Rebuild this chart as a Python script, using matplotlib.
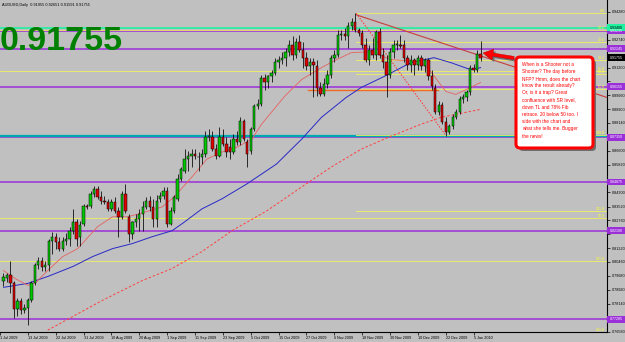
import matplotlib
matplotlib.use("Agg")
import matplotlib.pyplot as plt
from matplotlib.patches import FancyBboxPatch, Rectangle, FancyArrow
from matplotlib.transforms import Affine2D, blended_transform_factory

plt.rcParams['font.family'] = ['Liberation Sans', 'DejaVu Sans']

header = "AUDUSD,Daily  0.91955 0.92651 0.91591 0.91755"
last_price = 0.91755
note = ("When is a Shooter not a\nShooter? The day before\nNFP? Hmm, does the chart\n"
        "know the result already?\nOr, is it a trap? Great\nconfluence with SR level,\n"
        "down TL and 78% Fib\nretrace. 20 below 50 too. I\nside with the chart and\n"
        "what she tells me. Bugger\nthe news!")

opens = [0.7938, 0.7954, 0.7971, 0.7927, 0.7784, 0.7828, 0.7778, 0.7789, 0.7833, 0.7927,
         0.8026, 0.8053, 0.8020, 0.8026, 0.8163, 0.8185, 0.8158, 0.8119, 0.8163, 0.8174,
         0.8218, 0.8268, 0.8185, 0.8257, 0.8356, 0.8356, 0.8422, 0.8449, 0.8405, 0.8383,
         0.8378, 0.8339, 0.8378, 0.8328, 0.8295, 0.8422, 0.8295, 0.8202, 0.8268, 0.8284,
         0.8312, 0.8350, 0.8383, 0.8350, 0.8284, 0.8394, 0.8411, 0.8438, 0.8257, 0.8328,
         0.8394, 0.8504, 0.8548, 0.8614, 0.8631, 0.8642, 0.8625, 0.8625, 0.8642, 0.8735,
         0.8735, 0.8669, 0.8631, 0.8735, 0.8697, 0.8680, 0.8653, 0.8724, 0.8708, 0.8823,
         0.8708, 0.8658, 0.8779, 0.8906, 0.8917, 0.9065, 0.9038, 0.9071, 0.9093, 0.9153,
         0.9164, 0.9175, 0.9208, 0.9247, 0.9192, 0.9263, 0.9219, 0.9175, 0.9131, 0.9153,
         0.9131, 0.9010, 0.8972, 0.9032, 0.9082, 0.9175, 0.9192, 0.9302, 0.9307, 0.9296,
         0.9351, 0.9373, 0.9329, 0.9313, 0.9247, 0.9164, 0.9219, 0.9192, 0.9318, 0.9192,
         0.9153, 0.9082, 0.9208, 0.9247, 0.9247, 0.9247, 0.9175, 0.9137, 0.9164, 0.9137,
         0.9175, 0.9131, 0.9164, 0.9071, 0.9010, 0.8873, 0.8911, 0.8818, 0.8763, 0.8796,
         0.8845, 0.8873, 0.8944, 0.8955, 0.8983, 0.9120, 0.9109, 0.91955]
highs = [0.7982, 0.7987, 0.8048, 0.7938, 0.7844, 0.7844, 0.7811, 0.7844, 0.7938, 0.8042,
         0.8075, 0.8075, 0.8053, 0.8174, 0.8213, 0.8207, 0.8185, 0.8185, 0.8207, 0.8240,
         0.8339, 0.8284, 0.8273, 0.8367, 0.8367, 0.8438, 0.8466, 0.8466, 0.8438, 0.8411,
         0.8394, 0.8394, 0.8405, 0.8350, 0.8438, 0.8477, 0.8312, 0.8273, 0.8312, 0.8339,
         0.8383, 0.8405, 0.8411, 0.8394, 0.8416, 0.8433, 0.8460, 0.8460, 0.8350, 0.8416,
         0.8532, 0.8570, 0.8669, 0.8658, 0.8669, 0.8669, 0.8653, 0.8669, 0.8768, 0.8779,
         0.8768, 0.8697, 0.8790, 0.8779, 0.8735, 0.8724, 0.8752, 0.8768, 0.8845, 0.8834,
         0.8724, 0.8790, 0.8917, 0.8944, 0.9082, 0.9087, 0.9082, 0.9109, 0.9175, 0.9186,
         0.9208, 0.9230, 0.9274, 0.9296, 0.9285, 0.9302, 0.9263, 0.9208, 0.9175, 0.9175,
         0.9164, 0.9038, 0.9065, 0.9109, 0.9192, 0.9219, 0.9329, 0.9329, 0.9340, 0.9373,
         0.9395, 0.9423, 0.9340, 0.9329, 0.9285, 0.9247, 0.9285, 0.9329, 0.9340, 0.9230,
         0.9192, 0.9230, 0.9274, 0.9274, 0.9302, 0.9274, 0.9192, 0.9192, 0.9175, 0.9192,
         0.9192, 0.9175, 0.9175, 0.9109, 0.9027, 0.8933, 0.8928, 0.8845, 0.8807, 0.8862,
         0.8889, 0.8961, 0.8972, 0.8999, 0.9137, 0.9142, 0.9219, 0.92651]
lows = [0.7910, 0.7932, 0.7872, 0.7734, 0.7745, 0.7756, 0.7762, 0.7696, 0.7822, 0.7916,
        0.8009, 0.7998, 0.7998, 0.7998, 0.8092, 0.8119, 0.8108, 0.8108, 0.8141, 0.8136,
        0.8202, 0.8136, 0.8136, 0.8246, 0.8339, 0.8345, 0.8405, 0.8394, 0.8367, 0.8367,
        0.8328, 0.8328, 0.8317, 0.8185, 0.8284, 0.8317, 0.8158, 0.8174, 0.8240, 0.8218,
        0.8218, 0.8339, 0.8328, 0.8240, 0.8240, 0.8378, 0.8394, 0.8240, 0.8251, 0.8317,
        0.8383, 0.8493, 0.8537, 0.8548, 0.8570, 0.8614, 0.8548, 0.8587, 0.8625, 0.8713,
        0.8658, 0.8614, 0.8625, 0.8686, 0.8625, 0.8614, 0.8642, 0.8691, 0.8691, 0.8713,
        0.8570, 0.8642, 0.8768, 0.8889, 0.8906, 0.8999, 0.9010, 0.9043, 0.9082, 0.9120,
        0.9142, 0.9131, 0.9186, 0.9164, 0.9175, 0.9208, 0.9120, 0.9109, 0.9082, 0.8955,
        0.8961, 0.8961, 0.8961, 0.9010, 0.9065, 0.9153, 0.9181, 0.9274, 0.9274, 0.9230,
        0.9329, 0.9318, 0.9296, 0.9230, 0.9153, 0.9137, 0.9175, 0.9164, 0.9175, 0.9120,
        0.8955, 0.9065, 0.9175, 0.9219, 0.9230, 0.9153, 0.9109, 0.9098, 0.9082, 0.9109,
        0.9109, 0.9098, 0.9054, 0.8999, 0.8862, 0.8856, 0.8807, 0.8741, 0.8752, 0.8779,
        0.8834, 0.8862, 0.8922, 0.8933, 0.8966, 0.9098, 0.9098, 0.91591]
closes = [0.7960, 0.7971, 0.7927, 0.7784, 0.7828, 0.7778, 0.7789, 0.7833, 0.7927, 0.8026,
          0.8053, 0.8020, 0.8031, 0.8163, 0.8185, 0.8158, 0.8119, 0.8163, 0.8174, 0.8218,
          0.8268, 0.8174, 0.8251, 0.8356, 0.8350, 0.8422, 0.8449, 0.8405, 0.8383, 0.8378,
          0.8339, 0.8378, 0.8328, 0.8295, 0.8422, 0.8328, 0.8202, 0.8268, 0.8284, 0.8312,
          0.8350, 0.8383, 0.8350, 0.8284, 0.8383, 0.8411, 0.8438, 0.8257, 0.8328, 0.8405,
          0.8504, 0.8559, 0.8614, 0.8631, 0.8642, 0.8631, 0.8628, 0.8642, 0.8735, 0.8741,
          0.8669, 0.8631, 0.8735, 0.8697, 0.8653, 0.8653, 0.8724, 0.8708, 0.8823, 0.8724,
          0.8642, 0.8779, 0.8906, 0.8917, 0.9065, 0.9038, 0.9071, 0.9093, 0.9153, 0.9164,
          0.9175, 0.9208, 0.9247, 0.9192, 0.9263, 0.9219, 0.9175, 0.9131, 0.9153, 0.9137,
          0.9010, 0.8972, 0.9032, 0.9082, 0.9175, 0.9192, 0.9302, 0.9307, 0.9296, 0.9351,
          0.9373, 0.9329, 0.9313, 0.9247, 0.9164, 0.9219, 0.9192, 0.9318, 0.9192, 0.9153,
          0.9082, 0.9208, 0.9247, 0.9252, 0.9241, 0.9175, 0.9137, 0.9164, 0.9137, 0.9175,
          0.9131, 0.9164, 0.9071, 0.9016, 0.8873, 0.8911, 0.8818, 0.8763, 0.8796, 0.8845,
          0.8873, 0.8944, 0.8955, 0.8983, 0.9120, 0.9109, 0.9197, 0.91755]

# moving averages (bar index, price)
ma_fast_bars = [0, 3.3, 7, 9.3, 12.7, 17, 21.3, 27, 31.3, 35.6, 39.9, 45.6, 49, 54.1, 58.4,
                62.7, 67, 71.3, 74.1, 80.7, 85.6, 91.3, 95.6, 99.9, 105.6, 111.3, 119.9,
                122.7, 127, 129.9, 134.1, 137]
ma_fast_vals = [0.7998, 0.7954, 0.7916, 0.7932, 0.7998, 0.8075, 0.8119, 0.8240, 0.8295, 0.8295,
                0.8317, 0.8350, 0.8405, 0.8515, 0.8614, 0.8653, 0.8680, 0.8724, 0.8807, 0.8961,
                0.9054, 0.9120, 0.9164, 0.9203, 0.9208, 0.9164, 0.9153, 0.9098, 0.8988, 0.8972,
                0.9010, 0.9038]
ma_mid_bars = [0, 7, 12.7, 19.9, 25.6, 31.3, 37, 42.7, 48.4, 51.3, 57, 62.7, 69.9, 78.4, 82.7,
               85.6, 91.3, 98.4, 102.7, 109.3, 117, 123.6, 128.4, 134.1, 137]
ma_mid_vals = [0.7905, 0.7927, 0.7965, 0.8020, 0.8075, 0.8119, 0.8147, 0.8185, 0.8218, 0.8257,
               0.8339, 0.8394, 0.8477, 0.8587, 0.8669, 0.8724, 0.8845, 0.8955, 0.9010, 0.9071,
               0.9148, 0.9175, 0.9148, 0.9109, 0.9120]
ma_slow_bars = [12.7, 28.4, 39.9, 48.4, 57, 65.6, 75.6, 85.6, 94.1, 102.7, 111.3, 119.9,
                125.6, 134.1, 137]
ma_slow_vals = [0.7668, 0.7833, 0.7943, 0.8009, 0.8103, 0.8218, 0.8328, 0.8460, 0.8570, 0.8669,
                0.8741, 0.8807, 0.8845, 0.8878, 0.8889]

date_bars = [-1, 7, 15, 23, 31, 39, 47, 55, 63, 71, 79, 87, 95, 103, 111, 119, 127, 135]
date_labels = ["1 Jul 2009", "13 Jul 2009", "22 Jul 2009", "31 Jul 2009", "10 Aug 2009",
               "20 Aug 2009", "1 Sep 2009", "11 Sep 2009", "23 Sep 2009", "5 Oct 2009",
               "15 Oct 2009", "27 Oct 2009", "6 Nov 2009", "18 Nov 2009", "30 Nov 2009",
               "10 Dec 2009", "22 Dec 2009", "5 Jan 2010"]
price_ticks = [0.94280, 0.93500, 0.92740, 0.91960, 0.91200, 0.90440, 0.89660, 0.88900,
               0.88140, 0.87360, 0.86600, 0.85820, 0.85060, 0.84300, 0.83520, 0.82760,
               0.81980, 0.81220, 0.80460, 0.79680, 0.78920, 0.78140, 0.77360, 0.76580]

sr_purple = [0.93235, 0.92245, 0.90155, 0.87350, 0.84875, 0.82180, 0.77285]
sr_cyan = 0.87350
sr_green = 0.93400
fib_bar = 101.3
fib_low_bar = 127.0
fib_high = 0.9420
fib_low = 0.8746
fib_ratios = [0.0, 23.6, 38.2, 50.0, 61.8, 100.0, 161.8, 261.8]
fib2_prices = [0.9329, 0.9104, 0.8290, 0.8048]
fib2_labels = ["38.2", "61.8", "50.0", "161.8"]
tl_bars = [101.3, 173.3]
tl_prices = [0.9412, 0.8955]
hline_bars = [87.5, 124.7]
hline_price = 0.8994

BG = '#c0c0c0'
fig = plt.figure(figsize=(6.25, 3.42), dpi=100)
fig.patch.set_facecolor(BG)
ax = fig.add_axes([0, 10 / 342, 607 / 625, 332 / 342])
ax.set_facecolor(BG)
ax.set_xlim(-0.143, 173.3)
ax.set_ylim(0.7668, 0.9494)

# horizontal levels
for p in sr_purple:
    ax.axhline(p, color='#9b30d9', lw=1.1, zorder=2)
ax.axhline(sr_cyan + 0.0006, color='#00a8b0', lw=1.6, zorder=2)
ax.axhline(sr_green, color='#20f0a0', lw=1.2, zorder=2)
for p, lab in zip(fib2_prices, fib2_labels):
    ax.axhline(p, color='#f0f060', lw=0.6, zorder=2)
    ax.text(172.8, p, lab, color='#ffff30', fontsize=2.6, ha='right', va='bottom', zorder=3)
for r in fib_ratios:
    p = fib_high - r / 100 * (fib_high - fib_low)
    ax.plot([fib_bar, 173.3], [p, p], color='#f0f060', lw=0.6, zorder=2)
    ax.text(172.8, p, f"{r:.1f}", color='#ffff30', fontsize=2.6, ha='right', va='bottom', zorder=3)
ax.plot([fib_bar, fib_low_bar], [fib_high, fib_low], color='#ff3030', lw=0.7, ls=(0, (1.5, 1.5)), zorder=3)
ax.plot(tl_bars, tl_prices, color='#c83c3c', lw=0.8, zorder=3)
ax.plot(hline_bars, [hline_price, hline_price], color='#f06a28', lw=1.0, zorder=3)

# moving averages
ax.plot(ma_slow_bars, ma_slow_vals, color='#ff4040', lw=0.7, ls=(0, (2.5, 2)), zorder=3)
ax.plot(ma_mid_bars, ma_mid_vals, color='#2828c8', lw=0.7, zorder=3)
ax.plot(ma_fast_bars, ma_fast_vals, color='#e86060', lw=0.6, zorder=3)

# candles
xs = list(range(len(opens)))
ax.vlines(xs, lows, highs, color='black', lw=0.55, zorder=4)
bottoms = [min(o, c) for o, c in zip(opens, closes)]
heights = [max(abs(c - o), 0.00018) for o, c in zip(opens, closes)]
colors = ['#00c800' if c >= o else '#e00000' for o, c in zip(opens, closes)]
ax.bar(xs, heights, bottom=bottoms, width=0.68, color=colors, edgecolor='black',
       linewidth=0.35, zorder=5)

# axes styling
for s in ['top', 'left']:
    ax.spines[s].set_visible(False)
ax.spines['right'].set_color('black')
ax.spines['bottom'].set_color('black')
ax.spines['right'].set_linewidth(0.8)
ax.spines['bottom'].set_linewidth(0.8)
ax.yaxis.tick_right()
boxed = sr_purple + [sr_green, last_price]
ax.set_yticks(price_ticks)
ax.set_yticklabels(["" if min(abs(t - b) for b in boxed) < 0.0035 else f"{t:.5f}"
                    for t in price_ticks])
ax.tick_params(axis='y', length=2, width=0.5, pad=1.2, labelsize=2.7, colors='black')
ax.set_xticks(date_bars)
ax.set_xticklabels(date_labels)
for t in ax.get_xticklabels():
    t.set_ha('left')
ax.tick_params(axis='x', length=2, width=0.5, pad=1.0, labelsize=2.7, colors='black')

# right-axis price boxes
btrans = blended_transform_factory(ax.transAxes, ax.transData)
half = 0.0019
for p in sr_purple:
    ax.add_patch(Rectangle((1.0, p - half), 18 / 607, 2 * half, transform=btrans,
                           facecolor='#9b30d9', edgecolor='none', clip_on=False, zorder=6))
    ax.text(1.004, p, f"{p:.5f}", transform=btrans, fontsize=2.6, color='white',
            va='center', ha='left', clip_on=False, zorder=7)
ax.add_patch(Rectangle((1.0, sr_green - half), 18 / 607, 2 * half, transform=btrans,
                       facecolor='#20f0a0', edgecolor='none', clip_on=False, zorder=6))
ax.text(1.004, sr_green, f"{sr_green:.5f}", transform=btrans, fontsize=2.6, color='black',
        va='center', ha='left', clip_on=False, zorder=7)
ax.add_patch(Rectangle((1.0, last_price - half), 18 / 607, 2 * half, transform=btrans,
                       facecolor='black', edgecolor='none', clip_on=False, zorder=6))
ax.text(1.004, last_price, f"{last_price:.5f}", transform=btrans, fontsize=2.6, color='white',
        va='center', ha='left', clip_on=False, zorder=7)

# pixel transform for annotations (origin top-left)
pix = Affine2D().scale(1 / 625, -1 / 342).translate(0, 1) + fig.transFigure

fig.text(2, 6, header, transform=pix, fontsize=2.8, color='black', va='baseline')
fig.text(0, 49.5, f"{last_price:.5f}", transform=pix, fontsize=24.5, fontweight='bold',
         color='#008000', va='baseline', ha='left', zorder=10)

shadow = FancyBboxPatch((519, 60), 77, 91, boxstyle='round,pad=0,rounding_size=4',
                        transform=pix, facecolor='#6e6e6e', edgecolor='none', zorder=20)
box = FancyBboxPatch((516, 57), 77, 91, boxstyle='round,pad=0,rounding_size=4',
                     transform=pix, facecolor='white', edgecolor='#ff0000', lw=2.2, zorder=21)
fig.add_artist(shadow)
fig.add_artist(box)
fig.text(522, 61.5, note, transform=pix, fontsize=3.4, color='#ff0000', va='top', ha='left',
         linespacing=1.55, zorder=22)

arr_sh = FancyArrow(516, 60, -31, -5, width=3.2, head_width=11, head_length=10,
                    length_includes_head=True, transform=pix, facecolor='#707070',
                    edgecolor='none', zorder=19)
arr = FancyArrow(514, 58, -31, -5, width=3.2, head_width=11, head_length=10,
                 length_includes_head=True, transform=pix, facecolor='#ff0000',
                 edgecolor='#c00000', lw=0.3, zorder=23)
fig.add_artist(arr_sh)
fig.add_artist(arr)

fig.savefig("out.png", dpi=100, facecolor=BG)
